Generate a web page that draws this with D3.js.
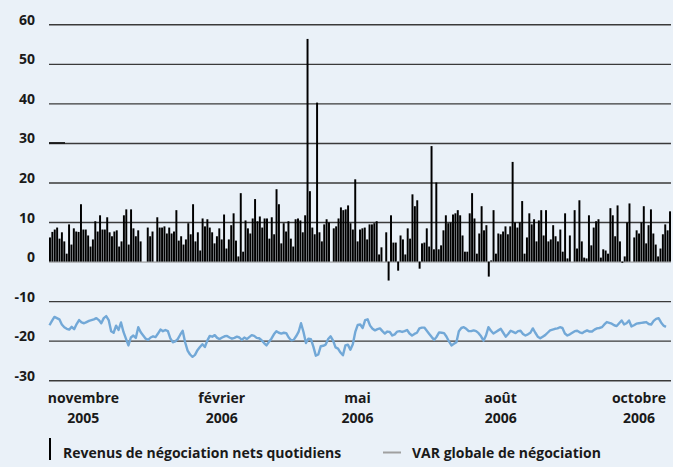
<!DOCTYPE html>
<html>
<head>
<meta charset="utf-8">
<script src="https://cdn.jsdelivr.net/npm/d3@7"></script>
<style>
  body { margin: 0; background: #eaf1f8; }
  svg { display: block; font-family: "Open Sans", sans-serif; }
</style>
</head>
<body>
<svg width="673" height="467"></svg>
<script>
// revenus quotidiens (M$), null = jour férié
var revenus = [
    6.1, 7.5, 8.1, 8.6, 5.8, 7.4, 5.1, 2.0, 9.4, 4.3, 8.4, 7.6, 7.5, 14.5, 8.1, 8.1, 6.6, 3.8, 5.6, 10.2,
    7.6, 11.7, 8.1, 8.1, 11.2, 7.4, 6.4, 7.6, 7.9, 3.8, 5.1, 11.7, 13.2, 4.3, 13.2, 8.4, 6.4, 7.9, 5.1, null,
    null, 8.6, 6.4,
    7.6, null, 11.2, 8.6, 8.6, 8.9, 7.1, 8.6, 7.1, 7.6, 13, 5.3, 6.4, 4.3, 5.6, 9.7, 6.9, 14.5, 5.1, 7.4,
    2.8, 10.9, 8.9, 10.7, 8.6, 7.4, 4.6, 6.4, 8.4, 5.6, 11.9, 3.3, 5.6, 9.2, 12.2, 5.3, 1.3, 17.3, 2.5, 10.4,
    8.4, 7.1, 10.9, 15.8,
    10.2, 11.4, 8.6, 10.9, 10.9, 5.8, 11.2, 6.9, 18.3, 14.5, 4.6, 9.7, 7.6, 10.2, 5.8, 3.8, 10.7, 10.9, 10.4, 7.4,
    11.7, 56.3, 17.8, 8.6, 6.9, 40.2, 7.4, 5.1, 9.4, 10.7, 9.9, null, 8.4, 8.9, 10.9, 13.7, 13, 13.2, 14.2, 9.7,
    8.1, 20.8, 5.1,
    8.1, 8.4, 8.6, 5.6, 9.4, 9.4, 9.7, 10.2, 1.8, 3.6, null, 7.4, -4.8, 11.7, 4.8, 4.8, -2.3, 6.6, 5.6, 1.8,
    8.4, 5.8, 17, 14, 15.5, -1.8, 4.6, 4.8, 8.4, 3.8, 29.2, 3.1, 20, 3.1, 4.1, 7.9, 11.7, 9.7, 9.9, 11.9,
    12.2, 13, 11.7,
    6.6, 2.5, 2.5, 12.2, 17.3, 10.9, 2.0, 7.1, 14, 7.9, 9.2, -3.8, 0.3, 13, 2.0, 7.1, 6.9, 7.6, 8.9, 6.9,
    8.9, 25.2, 9.9, 8.6, 9.9, 15.3, 2.0, 6.1, 12.2, 9.4, 10.7, 5.1, 10.4, 13, 6.6, 13, 5.1, 5.6, 9.2, 6.4,
    5.1, 8.1, 2.5, 12.2,
    0.8, 6.6, null, 13, 3.3, 15.5, 5.1, 1.0, 0.8, 11.7, 4.1, 8.6, 10.2, 10.7, 1.0, 3.1, 2.8, 2.0, 13.5, 11.7,
    6.4, 14.2, 5.1, -0.3, 1.3, 9.9, 14.7, null, 6.1, 7.9, 7.1, 9.9, 14, 4.6, 9.2, 13.2, 7.1, 4.3, 1.3, 3.3,
    6.9, 9.4, 7.9, 12.7
];

// VAR globale de négociation (M$)
var varGlobale = [
    -16.1, -15.0, -14.0, -14.3, -14.6, -15.9, -16.6, -17.0, -17.2, -16.5, -17.1, -15.8, -14.8, -15.4, -15.6, -15.3, -15.0, -14.8, -14.6, -14.3,
    -14.8, -15.6, -14.3, -13.8, -14.8, -17.6, -18.0, -16.2, -17.3, -15.4, -17.8, -19.5, -21.2, -19.2, -18.7, -19.3, -16.6, -17.9, -18.7, -19.5,
    -19.8, -19.2, -18.9, -19.1, -18.2, -17.2, -17.6, -17.3, -17.6, -19.4, -20.4, -20.2, -19.6, -18.5, -17.5, -20.4, -22.5, -23.5, -24.1, -23.6,
    -22.4, -21.6, -20.9, -21.6, -20.0, -18.8, -19.0, -18.6, -19.3, -19.6, -19.2, -18.9, -18.8, -19.2, -19.5, -19.3, -19.0, -19.2, -19.8, -19.2,
    -19.6, -19.1, -18.6, -18.8, -19.3, -19.4, -19.9, -20.6, -21.2, -20.3, -19.5, -18.4, -17.6, -18.0, -18.2, -18.0, -18.1, -19.2, -19.9, -19.8,
    -18.9, -17.8, -15.6, -17.8, -20.6, -19.5, -19.6, -21.5, -23.8, -23.5, -21.4, -21.3, -21.0, -19.6, -18.9, -20.0, -21.7, -22.0,
    -23.0, -23.7, -21.2, -21.0, -22.3, -20.9, -17.8, -16.0, -15.9, -16.8, -14.8, -14.6, -16.2, -17.0, -17.4, -17.1, -16.9, -17.6, -18.2, -17.7,
    -17.8, -18.7, -18.4, -17.7, -17.6, -17.8, -17.6, -17.3, -18.2, -18.7, -18.3, -18.0, -16.9, -16.7, -16.7, -17.5, -18.3, -19.1, -19.8, -19.0,
    -17.9, -18.0, -18.1, -19.0, -20.2, -21.2, -20.8, -20.4, -17.6, -16.8, -16.6, -17.0, -17.6, -17.6, -17.4, -17.6, -18.1, -18.9, -20.0, -18.7,
    -16.6, -17.5, -18.2, -17.8, -17.4, -17.0, -18.0, -19.0, -18.3, -17.5, -17.8, -18.1, -17.6, -17.5, -18.3, -18.7, -18.4, -18.0, -16.9, -18.0,
    -19.0, -19.4, -19.0, -18.6, -18.0, -17.4, -17.2, -17.0, -16.9, -16.6, -16.8, -18.2, -18.7, -18.4, -18.0, -17.6, -17.5, -17.9, -18.1, -17.7,
    -17.4, -17.7, -17.7, -17.2, -16.9, -16.8, -16.6, -15.9, -15.3, -15.5, -15.7, -16.1, -16.3, -15.6, -14.9, -15.9, -15.6, -14.9, -16.4, -16.1,
    -15.7, -15.6, -15.5, -15.4, -15.3, -15.8, -15.9, -15.0, -14.5, -14.3, -15.4, -16.2, -16.5
];

var yTicks = [60, 50, 40, 30, 20, 10, 0, -10, -20, -30];
var moisLabels = [["novembre", "2005"], ["février", "2006"], ["mai", "2006"], ["août", "2006"], ["octobre", "2006"]];
var moisIndex = [14, 72, 129, 189, 247];
var legendLabels = ["Revenus de négociation nets quotidiens", "VAR globale de négociation"];

var svg = d3.select("svg");
var left = 49, right = 671;

var y = d3.scaleLinear().domain([-30, 60]).range([380.2, 24.3]);
var x = d3.scaleBand().domain(d3.range(revenus.length)).range([left, right]).paddingInner(0.18);
var xv = d3.scaleLinear().domain([0, varGlobale.length - 1]).range([left + 0.5, 666]);

// grille + étiquettes
var yAxis = svg.append("g")
    .attr("transform", "translate(" + left + ",0)")
    .call(d3.axisLeft(y).tickValues(yTicks).tickSize(-(right - left)).tickPadding(14)
        .tickFormat(function(d) { return String(d); }));
yAxis.select(".domain").remove();
yAxis.selectAll(".tick line")
    .attr("stroke", function(d) { return d === 0 ? "#8c8c8c" : "#3a3a3a"; })
    .attr("stroke-width", function(d) { return d === 0 ? 1 : 1.4; });
yAxis.selectAll(".tick text")
    .attr("dy", "0")
    .attr("fill", "#1a1a1a")
    .style("font-size", "14px")
    .style("font-weight", "700")
    .style("font-family", "'Open Sans', sans-serif");

// petit trait plus foncé sur la ligne 30
svg.append("line")
    .attr("x1", left).attr("x2", left + 16)
    .attr("y1", y(30)).attr("y2", y(30))
    .attr("stroke", "#111").attr("stroke-width", 1.6);

// barres
svg.append("g")
    .selectAll("rect")
    .data(revenus.map(function(v, i) { return {i: i, v: v}; }).filter(function(d) { return d.v !== null; }))
    .enter().append("rect")
    .attr("x", function(d) { return x(d.i); })
    .attr("width", x.bandwidth())
    .attr("y", function(d) { return y(Math.max(0, d.v)); })
    .attr("height", function(d) { return Math.abs(y(d.v) - y(0)); })
    .attr("fill", "#000");

// ligne VAR
var line = d3.line()
    .x(function(d, i) { return xv(i); })
    .y(function(d) { return y(d); });
svg.append("path")
    .datum(varGlobale)
    .attr("d", line)
    .attr("fill", "none")
    .attr("stroke", "#72a8d7")
    .attr("stroke-width", 2.4)
    .attr("stroke-linejoin", "round");

// étiquettes des mois
var mois = svg.append("g").selectAll("text")
    .data(moisLabels)
    .enter().append("text")
    .attr("text-anchor", "middle")
    .attr("fill", "#1a1a1a")
    .style("font-size", "14px")
    .style("font-weight", "700");
mois.append("tspan")
    .attr("x", function(d, i) { return x(moisIndex[i]) + x.bandwidth() / 2; })
    .attr("y", 403)
    .text(function(d) { return d[0]; });
mois.append("tspan")
    .attr("x", function(d, i) { return x(moisIndex[i]) + x.bandwidth() / 2; })
    .attr("y", 423)
    .text(function(d) { return d[1]; });

// légende
var legend = svg.append("g");
legend.append("line")
    .attr("x1", 50).attr("x2", 50).attr("y1", 438).attr("y2", 460)
    .attr("stroke", "#000").attr("stroke-width", 2);
legend.append("text")
    .attr("x", 63).attr("y", 458)
    .attr("fill", "#1a1a1a")
    .style("font-size", "14px").style("font-weight", "700")
    .text(legendLabels[0]);
legend.append("line")
    .attr("x1", 383).attr("x2", 401).attr("y1", 452.5).attr("y2", 452.5)
    .attr("stroke", "#a0a0a0").attr("stroke-width", 2);
legend.append("text")
    .attr("x", 412).attr("y", 458)
    .attr("fill", "#1a1a1a")
    .style("font-size", "14px").style("font-weight", "700")
    .text(legendLabels[1]);
</script>
</body>
</html>
